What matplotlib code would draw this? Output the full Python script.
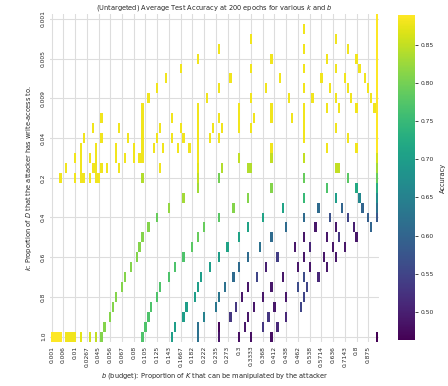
import numpy as np
import matplotlib
matplotlib.use('Agg')
import matplotlib.pyplot as plt
from matplotlib.colors import Normalize

k_labels = ['0.001', '0.005', '0.009', '0.04', '0.2', '0.4', '0.6', '0.8', '1.0']
b_labels = ['0.001', '0.006', '0.01', '0.0267', '0.045', '0.056', '0.067', '0.08',
            '0.105', '0.125', '0.143', '0.1667', '0.182', '0.222', '0.235', '0.273',
            '0.3', '0.3333', '0.368', '0.412', '0.438', '0.462', '0.538', '0.5714',
            '0.636', '0.7143', '0.8', '0.875']
n_k, n_b = 33, 112
step = 4

# for every k row: the b columns that have a result, and the accuracy there
row_cols = [
    [111],
    [86, 111],
    [68, 97, 111],
    [57, 86, 101, 111],
    [50, 75, 94, 104, 111],
    [44, 68, 86, 97, 105, 111],
    [39, 61, 78, 92, 100, 107, 111],
    [36, 57, 73, 86, 95, 101, 108, 111],
    [33, 53, 68, 81, 89, 97, 102, 109, 111],
    [31, 50, 64, 75, 86, 94, 98, 104, 110, 111],
    [17, 31, 41, 50, 57, 64, 69, 75, 82, 86, 111],
    [14, 23, 31, 37, 44, 50, 55, 58, 64, 68, 86, 97, 111],
    [11, 17, 26, 31, 36, 41, 45, 50, 54, 57, 86, 101, 111],
    [10, 15, 22, 28, 31, 35, 38, 43, 47, 50, 75, 94, 104, 111],
    [8, 10, 13, 15, 22, 25, 28, 30, 31, 50, 64, 75, 86, 111],
    [5, 10, 14, 15, 17, 19, 23, 37, 50, 58, 67, 68, 97, 98, 111],
    [3, 8, 10, 11, 13, 15, 16, 31, 50, 57, 86, 101, 111],
    [50, 75, 94, 104, 111],
    [45, 67, 86, 97, 105, 111],
    [40, 62, 79, 91, 99, 106, 111],
    [36, 57, 72, 86, 95, 101, 108, 111],
    [33, 52, 67, 80, 90, 97, 103, 109],
    [31, 50, 64, 75, 86, 94, 98, 104],
    [30, 48, 60, 71, 83, 88, 96, 100],
    [29, 45, 57, 67, 77, 86, 93, 97],
    [27, 42, 54, 64, 73, 84, 88, 94],
    [25, 40, 51, 62, 70, 79, 86, 91],
    [24, 37, 50, 59, 67, 75, 84, 87],
    [22, 36, 49, 57, 65, 72, 80, 86],
    [21, 34, 46, 56, 63, 69, 76, 85],
    [20, 33, 45, 52, 61, 67, 74, 80],
    [18, 32, 42, 50, 57, 66, 72, 77],
    [0, 1, 2, 3, 5, 6, 7, 8, 10, 13, 15, 17, 31, 41, 50, 57, 64, 68, 75, 111],
]
row_acc = [
    [.889],
    [.88, .889],
    [.88, .88, .889],
    [.88, .88, .88, .889],
    [.88, .88, .88, .88, .889],
    [.88, .88, .88, .88, .88, .889],
    [.88, .88, .88, .88, .88, .88, .889],
    [.88, .88, .88, .88, .88, .88, .88, .889],
    [.88, .88, .88, .88, .88, .88, .88, .88, .889],
    [.88, .88, .88, .88, .88, .88, .88, .88, .88, .889],
    [.88, .88, .88, .88, .88, .88, .88, .88, .88, .88, .889],
    [.88, .88, .88, .88, .88, .88, .88, .88, .88, .88, .88, .88, .889],
    [.88, .88, .88, .88, .88, .88, .88, .88, .88, .88, .88, .88, .889],
    [.88, .88, .88, .88, .88, .88, .88, .88, .88, .88, .88, .88, .88, .889],
    [.88, .88, .88, .88, .88, .88, .88, .88, .88, .88, .85, .85, .85, .86],
    [.88, .88, .88, .88, .88, .88, .88, .88, .87, .84, .84, .84, .85, .85, .83],
    [.88, .88, .88, .88, .88, .88, .88, .84, .85, .80, .79, .78, .79],
    [.83, .81, .77, .72, .73],
    [.83, .81, .75, .70, .66, .67],
    [.82, .81, .71, .61, .60, .60, .62],
    [.79, .78, .71, .61, .57, .55, .59, .58],
    [.81, .79, .71, .61, .49, .49, .50, .60],
    [.81, .79, .71, .61, .49, .49, .53, .49],
    [.81, .78, .71, .62, .49, .51, .49, .49],
    [.81, .77, .70, .61, .54, .49, .49, .49],
    [.81, .77, .70, .61, .50, .49, .49, .49],
    [.81, .77, .70, .61, .55, .49, .56, .51],
    [.81, .77, .70, .62, .49, .49, .56, .55],
    [.81, .77, .70, .63, .49, .49, .49, .55],
    [.81, .77, .70, .63, .53, .49, .49, .55],
    [.81, .77, .70, .65, .53, .49, .53, .51],
    [.81, .77, .70, .62, .47, .49, .53, .51],
    [.889, .889, .889, .889, .88, .88, .88, .88, .87, .86, .85, .81, .77, .70,
     .62, .49, .48, .48, .48, .463],
]

all_acc = np.concatenate([np.array(a) for a in row_acc])
norm = Normalize(all_acc.min(), all_acc.max())
cmap = plt.get_cmap('viridis')

# each cell is a bar; free sides are pulled in a little so lone cells look thin
inset = 0.12
lefts, widths, bottoms, colors = [], [], [], []
for r, (cols, vals) in enumerate(zip(row_cols, row_acc)):
    used = set(cols)
    for c, v in zip(cols, vals):
        left = c + (0 if c - 1 in used else inset)
        right = c + 1 - (0 if c + 1 in used else inset)
        lefts.append(left)
        widths.append(right - left)
        bottoms.append(r)
        colors.append(cmap(norm(v)))

text_col = '#262626'
fig = plt.figure(figsize=(4.48, 3.86), dpi=100)
ax = fig.add_axes([0.112, 0.115, 0.733, 0.849])

ax.bar(lefts, 1.0, width=widths, bottom=bottoms, align='edge', color=colors, linewidth=0)
ax.set_xlim(0, n_b)
ax.set_ylim(n_k, 0)

ax.set_xticks(np.arange(0, n_b, step) + 0.5)
ax.set_xticklabels(b_labels, rotation=90, fontsize=4.3, color=text_col)
ax.set_yticks(np.arange(0, n_k, step) + 0.5)
ax.set_yticklabels(k_labels, rotation=90, va='center', fontsize=4.3, color=text_col)
ax.tick_params(length=0, pad=3)
ax.grid(True, color='#dddddd', lw=0.8)
ax.set_axisbelow(True)
for s in ax.spines.values():
    s.set_visible(False)

ax.set_title('(Untargeted) Average Test Accuracy at 200 epochs for various $k$ and $b$',
             fontsize=4.8, color=text_col, pad=3)
ax.set_xlabel('$b$ (budget): Proportion of $K$ that can be manipulated by the attacker',
              fontsize=4.8, color=text_col, labelpad=3)
ax.set_ylabel('$k$: Proportion of $D$ that the attacker has write-access to.',
              fontsize=4.8, color=text_col, labelpad=5)

sm = plt.cm.ScalarMappable(norm=norm, cmap=cmap)
cax = fig.add_axes([0.888, 0.119, 0.038, 0.842])
cb = fig.colorbar(sm, cax=cax)
cb.outline.set_visible(False)
cb.set_ticks([0.50, 0.55, 0.60, 0.65, 0.70, 0.75, 0.80, 0.85])
cb.ax.tick_params(labelsize=4.3, length=2.5, width=0.6, colors=text_col, pad=2)
cb.set_label('Accuracy', fontsize=4.8, color=text_col, labelpad=4)

fig.savefig('out.png', dpi=100)
